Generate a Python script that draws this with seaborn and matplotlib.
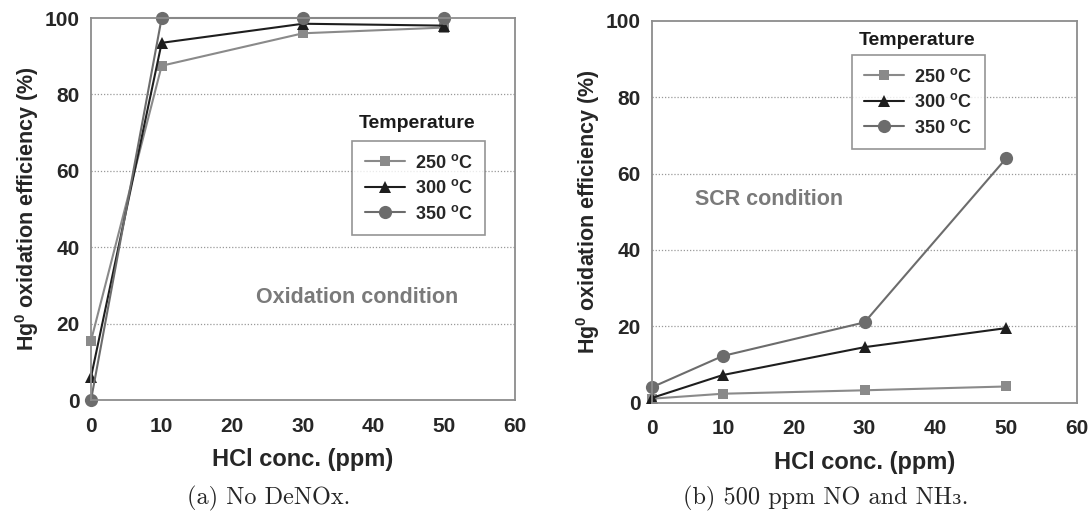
import numpy as np
import pandas as pd
import matplotlib
matplotlib.use("Agg")
import matplotlib.pyplot as plt
import seaborn as sns

# datos
hcl_ppm = [0, 10, 30, 50]
temperatures = ["250", "300", "350"]

# (a) sin DeNOx
eff_nodenox_250 = [15.5, 87.5, 96.0, 97.5]
eff_nodenox_300 = [6.0, 93.5, 98.5, 98.0]
eff_nodenox_350 = [0.0, 100.0, 100.0, 100.0]

# (b) 500 ppm NO y NH3
eff_scr_250 = [1.0, 2.3, 3.2, 4.2]
eff_scr_300 = [1.2, 7.2, 14.5, 19.5]
eff_scr_350 = [4.0, 12.2, 21.0, 64.0]

xticks = [0, 10, 20, 30, 40, 50, 60]
yticks = [0, 20, 40, 60, 80, 100]

sns.set_style("white")
plt.rcParams["font.family"] = ["Liberation Sans", "DejaVu Sans"]
plt.rcParams["font.weight"] = "bold"
plt.rcParams["mathtext.fontset"] = "custom"
plt.rcParams["mathtext.rm"] = "Liberation Sans:bold"
plt.rcParams["mathtext.bf"] = "Liberation Sans:bold"
plt.rcParams["mathtext.it"] = "Liberation Sans:bold"


def long_table(v250, v300, v350):
    rows = []
    for t, vals in zip(temperatures, [v250, v300, v350]):
        for x, y in zip(hcl_ppm, vals):
            rows.append({"hcl": x, "eff": y, "temp": t})
    return pd.DataFrame(rows)


styles = {
    "250": dict(color="#8a8a8a", marker="s", ms=7.5),
    "300": dict(color="#1e1e1e", marker="^", ms=8.5),
    "350": dict(color="#6c6c6c", marker="o", ms=9.5),
}

fig = plt.figure(figsize=(10.9, 5.13), dpi=100)
ax_a = fig.add_axes([91 / 1090, 113 / 513, 424 / 1090, 382 / 513])
ax_b = fig.add_axes([652 / 1090, 110.5 / 513, 425 / 1090, 381.5 / 513])


def draw_panel(ax, df, legend_xy, title_xy, note, note_xy):
    for t in temperatures:
        st = styles[t]
        sns.lineplot(data=df[df["temp"] == t], x="hcl", y="eff", ax=ax,
                     color=st["color"], marker=st["marker"], markersize=st["ms"],
                     markeredgewidth=0, linewidth=1.5,
                     label=t + r" $^{o}$C", legend=False)
    for ln in ax.get_lines():
        ln.set_clip_on(False)

    ax.set_xlim(0, 60)
    ax.set_ylim(0, 100)
    ax.set_xticks(xticks)
    ax.set_yticks(yticks)
    ax.tick_params(axis="x", direction="in", length=5, width=1, color="#888888",
                   labelsize=15, pad=12)
    ax.tick_params(axis="y", length=0, labelsize=15, pad=8)
    for lab in ax.get_xticklabels() + ax.get_yticklabels():
        lab.set_fontweight("bold")
    for y in [20, 40, 60, 80]:
        ax.axhline(y, color="#999999", linestyle=(0, (1, 1.5)), linewidth=0.9, zorder=0)
    for sp in ax.spines.values():
        sp.set_color("#8c8c8c")
        sp.set_linewidth(1.3)

    ax.set_xlabel("HCl conc. (ppm)", fontsize=17, fontweight="bold", labelpad=9)
    ax.set_ylabel(r"Hg$^{0}$ oxidation efficiency (%)", fontsize=15.5, fontweight="bold")
    ax.yaxis.set_label_coords(-0.118, 0.5)

    handles, labels = ax.get_legend_handles_labels()
    leg = ax.legend(handles, labels, loc="upper left", bbox_to_anchor=legend_xy,
                    borderaxespad=0, frameon=True, fancybox=False,
                    handlelength=2.2, handletextpad=0.55, labelspacing=0.42,
                    borderpad=0.7, prop={"weight": "bold", "size": 13})
    leg.get_frame().set_edgecolor("#7a7a7a")
    leg.get_frame().set_linewidth(1.2)
    ax.text(title_xy[0], title_xy[1], "Temperature", fontsize=14, fontweight="bold",
            ha="center", va="center", color="#1a1a1a")
    ax.text(note_xy[0], note_xy[1], note, fontsize=15.5, fontweight="bold",
            ha="center", va="center", color="#7a7a7a")


draw_panel(ax_a, long_table(eff_nodenox_250, eff_nodenox_300, eff_nodenox_350),
           (37.0 / 60, 0.678), (46.1, 72.3), "Oxidation condition", (37.7, 26.8))
draw_panel(ax_b, long_table(eff_scr_250, eff_scr_300, eff_scr_350),
           (28.2 / 60, 0.911), (37.4, 95.0), "SCR condition", (16.5, 53.3))

cap_font = ["cmr10", "DejaVu Serif"]
fig.text(269 / 1090, 1 - 498 / 513, "(a) No DeNOx.", ha="center", va="center",
         fontsize=17.5, family=cap_font, fontweight="normal")
fig.text(826 / 1090, 1 - 498 / 513, "(b) 500 ppm NO and NH\u2083.", ha="center",
         va="center", fontsize=17.5, family=cap_font, fontweight="normal")

plt.savefig("out.png", dpi=100)
